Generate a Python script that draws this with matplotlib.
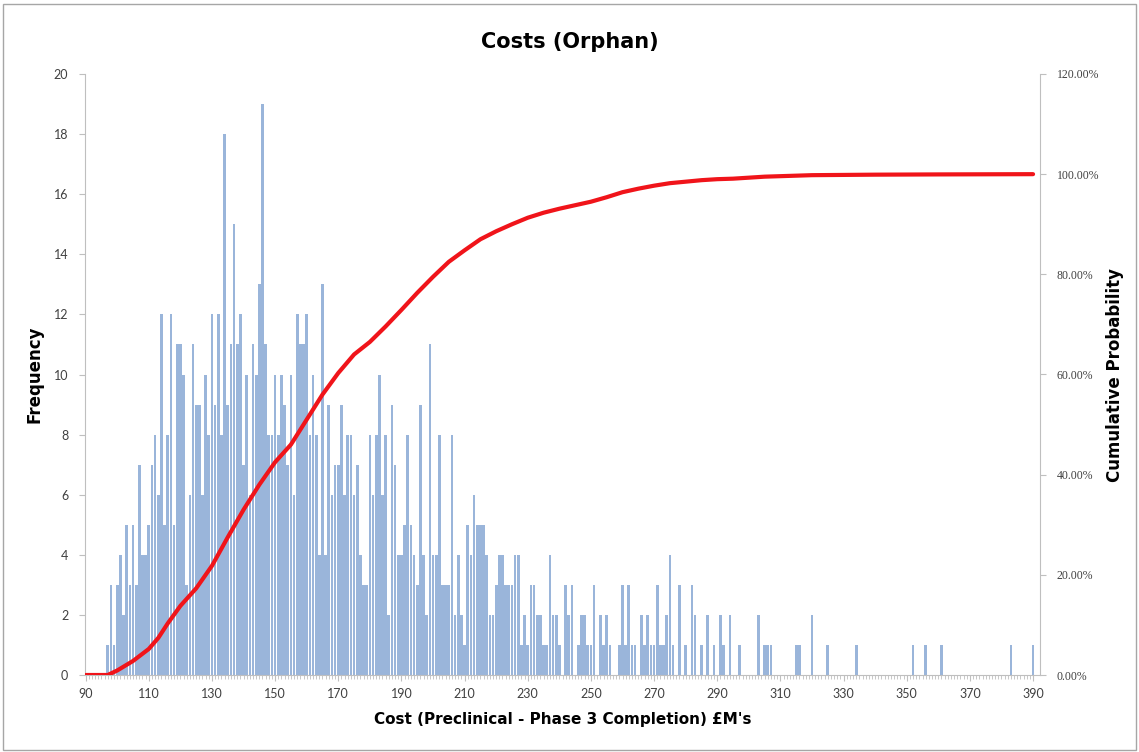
import numpy as np
import matplotlib
matplotlib.use("Agg")
import matplotlib.pyplot as plt
from matplotlib.ticker import FuncFormatter, MultipleLocator

plt.rcParams["font.family"] = ["Lato", "DejaVu Sans"]
bold_font = "DejaVu Sans"

# Histogram: cost (£M) -> frequency, one bin per £1M from 90 to 390
cost_start = 90
freq = [
    0, 0, 0, 0, 0, 0, 0, 1, 3, 1,        # 90-99
    3, 4, 2, 5, 3, 5, 3, 7, 4, 4,        # 100-109
    5, 7, 8, 6, 12, 5, 8, 12, 5, 11,     # 110-119
    11, 10, 3, 6, 11, 9, 9, 6, 10, 8,    # 120-129
    12, 9, 12, 8, 18, 9, 11, 15, 11, 12, # 130-139
    7, 10, 6, 11, 10, 13, 19, 11, 8, 8,  # 140-149
    10, 8, 10, 9, 7, 10, 6, 12, 11, 11,  # 150-159
    12, 8, 10, 8, 4, 13, 4, 9, 6, 7,     # 160-169
    7, 9, 6, 8, 8, 6, 7, 4, 3, 3,        # 170-179
    8, 6, 8, 10, 6, 8, 2, 9, 7, 4,       # 180-189
    4, 5, 8, 5, 4, 3, 9, 4, 2, 11,       # 190-199
    4, 4, 8, 3, 3, 3, 8, 2, 4, 2,        # 200-209
    1, 5, 4, 6, 5, 5, 5, 4, 2, 2,        # 210-219
    3, 4, 4, 3, 3, 3, 4, 4, 1, 2,        # 220-229
    1, 3, 3, 2, 2, 1, 1, 4, 2, 2,        # 230-239
    1, 0, 3, 2, 3, 0, 1, 2, 2, 1,        # 240-249
    1, 3, 0, 2, 1, 2, 1, 0, 0, 1,        # 250-259
    3, 1, 3, 1, 1, 0, 2, 1, 2, 1,        # 260-269
    1, 3, 1, 1, 2, 4, 1, 0, 3, 0,        # 270-279
    1, 0, 3, 2, 0, 1, 0, 2, 0, 1,        # 280-289
    0, 2, 1, 0, 2, 0, 0, 1, 0, 0,        # 290-299
    0, 0, 0, 2, 0, 1, 1, 1, 0, 0,        # 300-309
    0, 0, 0, 0, 0, 1, 1, 0, 0, 0,        # 310-319
    2, 0, 0, 0, 0, 1, 0, 0, 0, 0,        # 320-329
    0, 0, 0, 0, 1, 0, 0, 0, 0, 0,        # 330-339
    0, 0, 0, 0, 0, 0, 0, 0, 0, 0,        # 340-349
    0, 0, 1, 0, 0, 0, 1, 0, 0, 0,        # 350-359
    0, 1, 0, 0, 0, 0, 0, 0, 0, 0,        # 360-369
    0, 0, 0, 0, 0, 0, 0, 0, 0, 0,        # 370-379
    0, 0, 0, 1, 0, 0, 0, 0, 0, 0,        # 380-389
    1,                                   # 390
]
costs = np.arange(cost_start, cost_start + len(freq))

# Cumulative probability curve, in %
cum_cost = [90, 97, 100, 105, 110, 113, 116, 120, 125, 130, 135, 140, 145, 150,
            155, 160, 165, 170, 175, 180, 185, 190, 195, 200, 205, 210, 215,
            220, 225, 230, 235, 240, 245, 250, 255, 260, 265, 270, 275, 280,
            285, 290, 295, 300, 305, 320, 340, 360, 390]
cum_pct = [0, 0, 0.9, 2.8, 5.2, 7.4, 10.3, 13.8, 17.3, 21.8, 27.5, 33.0, 38.0,
           42.5, 46.0, 51.0, 56.0, 60.3, 64.0, 66.5, 69.6, 72.9, 76.3, 79.5,
           82.5, 84.8, 87.0, 88.6, 90.0, 91.3, 92.3, 93.1, 93.8, 94.5, 95.4,
           96.4, 97.1, 97.7, 98.2, 98.5, 98.8, 99.0, 99.1, 99.3, 99.5, 99.8,
           99.9, 99.95, 100.0]

x_labels = list(range(90, 391, 20))

fig = plt.figure(figsize=(11.39, 7.52), dpi=100)
ax = fig.add_axes([85 / 1139, 77 / 752, 955 / 1139, 601 / 752])

ax.bar(costs, freq, width=0.85, color="#9AB5DA", edgecolor="none", zorder=2)

ax.set_xlim(89.8, 392.2)
ax.set_ylim(0, 20)
ax.yaxis.set_major_locator(MultipleLocator(2))
ax.set_xticks(x_labels)
ax.set_xticks(costs, minor=True)

tick_col = "#404040"
axis_col = "#BFBFBF"
for s in ["top", "right"]:
    ax.spines[s].set_visible(False)
for s in ["left", "bottom"]:
    ax.spines[s].set_color(axis_col)
ax.tick_params(axis="y", labelsize=9, colors=tick_col, length=4, color=axis_col, pad=8)
ax.tick_params(axis="x", which="major", labelsize=9, colors=tick_col, length=4,
               color=axis_col, pad=5)
ax.tick_params(axis="x", which="minor", length=3, color=axis_col)

ax.set_ylabel("Frequency", fontsize=12, fontweight="bold", family=bold_font,
              labelpad=7)
ax.set_xlabel("Cost (Preclinical - Phase 3 Completion) £M's", fontsize=11,
              fontweight="bold", family=bold_font, labelpad=9)

ax2 = ax.twinx()
ax2.plot(cum_cost, np.array(cum_pct) / 100.0, color="#F0141A", linewidth=3.0,
         solid_capstyle="round", solid_joinstyle="round", zorder=3)
ax2.set_ylim(0, 1.2)
ax2.yaxis.set_major_locator(MultipleLocator(0.2))
ax2.yaxis.set_major_formatter(FuncFormatter(lambda v, p: f"{v * 100:.2f}%"))
for s in ["top", "left", "bottom"]:
    ax2.spines[s].set_visible(False)
ax2.spines["right"].set_color(axis_col)
ax2.tick_params(axis="y", length=4, color=axis_col, colors=tick_col, pad=8)
for lab in ax2.get_yticklabels():
    lab.set_family("Liberation Serif")
    lab.set_fontsize(8.5)
ax2.set_ylabel("Cumulative Probability", fontsize=12, fontweight="bold",
               family=bold_font, labelpad=5)

fig.suptitle("Costs (Orphan)", fontsize=15, fontweight="bold", family=bold_font,
             y=0.958)

# thin frame around the chart area
fig.patches.append(plt.Rectangle((0.003, 0.003), 0.994, 0.992, transform=fig.transFigure,
                                 fill=False, edgecolor="#A6A6A6", linewidth=1.0))

fig.savefig("out.png", dpi=100)
